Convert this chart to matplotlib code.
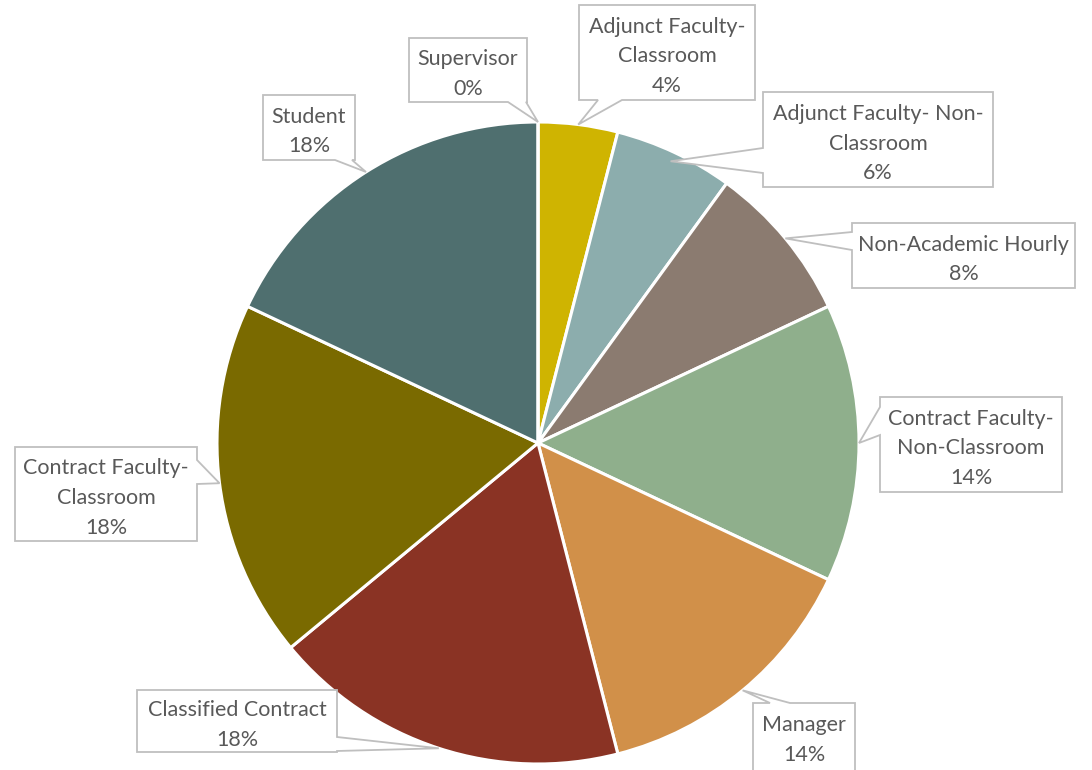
import numpy as np
import matplotlib
matplotlib.use("Agg")
import matplotlib.pyplot as plt
from matplotlib.patches import Polygon

plt.rcParams['font.family'] = ['Lato', 'DejaVu Sans']

# ---- data ----
categories = ["Adjunct Faculty-\nClassroom", "Adjunct Faculty- Non-\nClassroom",
              "Non-Academic Hourly", "Contract Faculty-\nNon-Classroom", "Manager",
              "Classified Contract", "Contract Faculty-\nClassroom", "Student", "Supervisor"]
counts = [2, 3, 4, 7, 7, 9, 9, 9, 0]
colors = ["#CFB401", "#8CADAD", "#8B7B70", "#8FAF8C", "#D19049",
          "#8A3324", "#7A6A00", "#4F6F6F", "#A0A0A0"]

# ---- layout (pixel positions of callout boxes) ----
W, H = 1092, 770
CX, CY, R = 538, 443, 321
# box: (x0, y0, x1, y1), side of wedge base, base start/end along side, tip radius
boxes = [
    ((579, 5, 755, 100), 'bottom', (598, 622), 1.0),
    ((763, 92, 993, 187), 'left', (148, 173), 0.97),
    ((852, 223, 1075, 288), 'left', (232, 250), 1.0),
    ((880, 397, 1062, 492), 'left', (407, 435), 1.0),
    ((753, 703, 855, 780), 'top', (770, 790), 1.0),
    ((137, 690, 337, 752), 'right', (737, 751), 1.0),
    ((15, 447, 197, 541), 'right', (460, 484), 1.0),
    ((263, 95, 355, 160), 'bottom', (335, 352), 1.0),
    ((409, 38, 527, 102), 'bottom', (508, 526), 1.0),
]

fig = plt.figure(figsize=(W / 100, H / 100), dpi=100)
ax = fig.add_axes([0, 0, 1, 1])

wedges, _ = ax.pie(counts, colors=colors, startangle=90, counterclock=False,
                   radius=1.0, center=(0, 0),
                   wedgeprops=dict(edgecolor='white', linewidth=2.2))
ax.set_xlim(-CX / R, (W - CX) / R)
ax.set_ylim((CY - H) / R, CY / R)
ax.set_aspect('equal', adjustable='box')
ax.axis('off')


def px(x, y):
    return ((x - CX) / R, (CY - y) / R)


total = sum(counts)
for w, lab, c, (box, side, base, rt) in zip(wedges, categories, counts, boxes):
    mid = np.deg2rad((w.theta1 + w.theta2) / 2)
    tip = (rt * np.cos(mid), rt * np.sin(mid))
    x0, y0, x1, y1 = box
    b0, b1 = base
    if side == 'top':
        pts = [px(x0, y0), px(b0, y0), tip, px(b1, y0), px(x1, y0), px(x1, y1), px(x0, y1)]
    elif side == 'right':
        pts = [px(x0, y0), px(x1, y0), px(x1, b0), tip, px(x1, b1), px(x1, y1), px(x0, y1)]
    elif side == 'bottom':
        pts = [px(x0, y0), px(x1, y0), px(x1, y1), px(b1, y1), tip, px(b0, y1), px(x0, y1)]
    else:  # left
        pts = [px(x0, y0), px(x1, y0), px(x1, y1), px(x0, y1), px(x0, b1), tip, px(x0, b0)]
    poly = Polygon(pts, closed=True, facecolor='white', edgecolor='#BFBFBF',
                   linewidth=1.3, zorder=5, clip_on=False)
    ax.add_patch(poly)
    pct = 100.0 * c / total
    txt = f"{lab}\n{pct:.0f}%"
    if side == 'top' and y1 > H:
        tx, ty = px((x0 + x1) / 2, 740)
    else:
        tx, ty = px((x0 + x1) / 2, (y0 + y1) / 2 + 4)
    ax.text(tx, ty, txt, ha='center', va='center', fontsize=15.5,
            color='#595959', linespacing=1.62, zorder=6)

fig.savefig("out.png", dpi=100, facecolor='white')
